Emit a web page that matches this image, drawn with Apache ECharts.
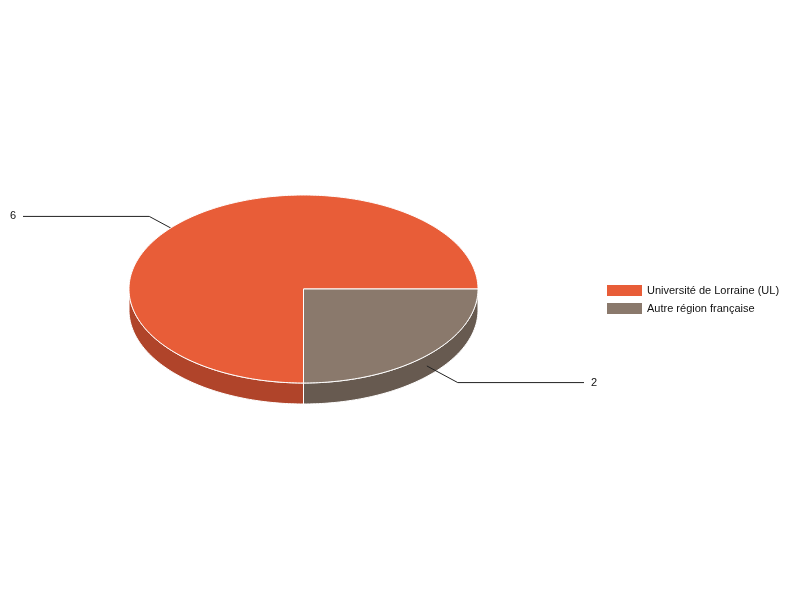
<!DOCTYPE html>
<html>
<head>
<meta charset="utf-8">
<script src="https://cdn.jsdelivr.net/npm/echarts@6/dist/echarts.min.js"></script>
<style>html,body{margin:0;padding:0;background:#fff}#c{width:800px;height:600px}</style>
</head>
<body>
<div id="c"></div>
<script>
// ---- data ----
const categories = ['Université de Lorraine (UL)', 'Autre région française'];
const values = [6, 2];

// ---- styles / layout ----
const topColors = ['#E85D38', '#8A796C'];
const sideColors = ['#B0442A', '#675A50'];
const CX = 303.5, CY = 289, RX = 174.5, RY = 94, DEPTH = 21;
const START = 90;          // degrees, clockwise from east (screen)
const LABEL_EDGE = 106;    // horizontal distance from ellipse edge to label line end
const ELBOW = 0.25;
const FONT = 'Liberation Sans, Arial, sans-serif';

const total = values.reduce((a, b) => a + b, 0);
const angles = [];
let acc = 0;
values.forEach(v => {
  const a = START + acc / total * 360;
  acc += v;
  const b = START + acc / total * 360;
  angles.push([a, b]);
});

function pt(deg, dy) {
  const r = deg * Math.PI / 180;
  return [CX + RX * Math.cos(r), CY + RY * Math.sin(r) + (dy || 0)];
}
function arc(a, b, dy) {
  const pts = [];
  const n = Math.max(2, Math.ceil(Math.abs(b - a)));
  for (let i = 0; i <= n; i++) pts.push(pt(a + (b - a) * i / n, dy));
  return pts;
}

function sliceRender(i) {
  return function () {
    const [a, b] = angles[i];
    const children = [];
    for (let k = Math.floor(a / 360) - 1; k <= Math.ceil(b / 360); k++) {
      const lo = Math.max(a, 360 * k), hi = Math.min(b, 360 * k + 180);
      if (hi > lo) {
        const pts = arc(lo, hi, 0).concat(arc(hi, lo, DEPTH));
        children.push({
          type: 'polygon', shape: { points: pts }, z2: 1,
          style: { fill: sideColors[i], stroke: '#fff', lineWidth: 1 }
        });
      }
    }
    const pts = [[CX, CY]].concat(arc(a, b, 0));
    children.push({
      type: 'polygon', shape: { points: pts }, z2: 10,
      style: { fill: topColors[i], stroke: '#fff', lineWidth: 1, lineJoin: 'round' }
    });
    // label with leader line
    const m = (a + b) / 2;
    const r = m * Math.PI / 180;
    const c = Math.cos(r), s = Math.sin(r);
    const anchor = pt(m, DEPTH / 2);
    const elbow = [anchor[0] + ELBOW * RX * c, anchor[1] + ELBOW * RY * s];
    const right = c >= 0;
    const endX = right ? CX + RX + LABEL_EDGE : CX - RX - LABEL_EDGE;
    children.push({
      type: 'polyline', z2: 5,
      shape: { points: [anchor, elbow, [endX, elbow[1]]] },
      style: { stroke: '#222', lineWidth: 1, fill: null }
    });
    children.push({
      type: 'text', z2: 20,
      x: right ? endX + 7 : endX - 7, y: elbow[1],
      style: {
        text: String(values[i]), fill: '#111', fontSize: 11, fontFamily: FONT,
        align: right ? 'left' : 'right', verticalAlign: 'middle'
      }
    });
    return { type: 'group', children };
  };
}

const series = categories.map((name, i) => ({
  type: 'custom',
  name: name,
  coordinateSystem: 'none',
  animation: false,
  itemStyle: { color: topColors[i] },
  data: [[values[i]]],
  renderItem: sliceRender(i)
}));

const chart = echarts.init(document.getElementById('c'), null, { renderer: 'canvas' });
chart.setOption({
  backgroundColor: '#fff',
  animation: false,
  color: topColors,
  legend: {
    orient: 'vertical',
    left: 607, top: 285,
    padding: 0,
    itemWidth: 35, itemHeight: 11, itemGap: 7,
    icon: 'rect',
    data: categories,
    textStyle: { fontSize: 11, fontFamily: FONT, color: '#111', lineHeight: 11 }
  },
  series: series
});
</script>
</body>
</html>
